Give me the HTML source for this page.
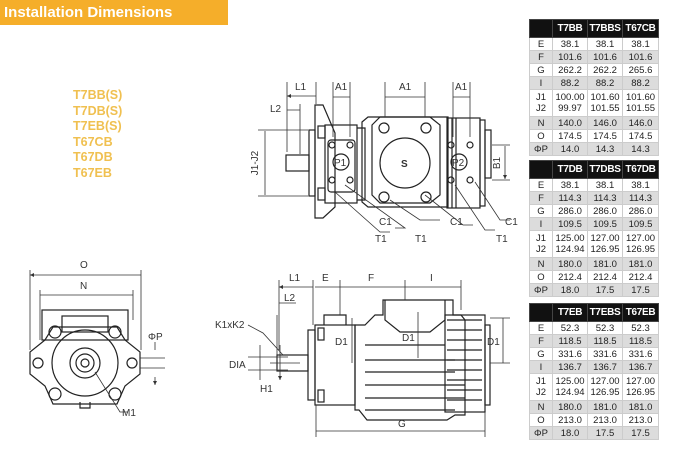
<!DOCTYPE html>
<html><head><style>
body{margin:0;width:700px;height:452px;background:#fff;overflow:hidden;position:relative;font-family:"Liberation Sans",Arial,sans-serif}
.hdr{position:absolute;left:0;top:0;width:228px;height:25px;background:#f5ae2a;color:#fff;font-weight:bold;font-size:15px;line-height:25px;padding-left:4px;box-sizing:border-box}
.models{position:absolute;left:73px;top:88px;color:#f0c050;font-weight:bold;font-size:12.5px;line-height:15.5px}
table{position:absolute;left:529px;border-collapse:collapse;font-size:9.5px;color:#222;width:129px;table-layout:fixed}
td,th{border:1px solid #ccc;text-align:center;padding:0;height:12px;line-height:11px;overflow:hidden;white-space:nowrap}
th{background:#111;color:#fff;font-size:10px;height:17px;border-color:#444;letter-spacing:-0.3px}
tr:nth-child(odd) td{background:#dcdcdc}
td.j{height:26px}
svg{position:absolute;left:0;top:0}
svg text{font-family:"Liberation Sans",Arial,sans-serif;font-size:10px;fill:#333}
</style></head><body>
<div class="hdr">Installation Dimensions</div>
<div class="models">T7BB(S)<br>T7DB(S)<br>T7EB(S)<br>T67CB<br>T67DB<br>T67EB</div>

<table style="top:19px"><colgroup><col style="width:23px"><col style="width:35px"><col style="width:35px"><col style="width:36px"></colgroup><tr><th></th><th>T7BB</th><th>T7BBS</th><th>T67CB</th></tr>
<tr><td>E</td><td>38.1</td><td>38.1</td><td>38.1</td></tr>
<tr><td>F</td><td>101.6</td><td>101.6</td><td>101.6</td></tr>
<tr><td>G</td><td>262.2</td><td>262.2</td><td>265.6</td></tr>
<tr><td>I</td><td>88.2</td><td>88.2</td><td>88.2</td></tr>
<tr><td class="j">J1<br>J2</td><td>100.00<br>99.97</td><td>101.60<br>101.55</td><td>101.60<br>101.55</td></tr>
<tr><td>N</td><td>140.0</td><td>146.0</td><td>146.0</td></tr>
<tr><td>O</td><td>174.5</td><td>174.5</td><td>174.5</td></tr>
<tr><td>ΦP</td><td>14.0</td><td>14.3</td><td>14.3</td></tr></table>

<table style="top:160px"><colgroup><col style="width:23px"><col style="width:35px"><col style="width:35px"><col style="width:36px"></colgroup><tr><th></th><th>T7DB</th><th>T7DBS</th><th>T67DB</th></tr>
<tr><td>E</td><td>38.1</td><td>38.1</td><td>38.1</td></tr>
<tr><td>F</td><td>114.3</td><td>114.3</td><td>114.3</td></tr>
<tr><td>G</td><td>286.0</td><td>286.0</td><td>286.0</td></tr>
<tr><td>I</td><td>109.5</td><td>109.5</td><td>109.5</td></tr>
<tr><td class="j">J1<br>J2</td><td>125.00<br>124.94</td><td>127.00<br>126.95</td><td>127.00<br>126.95</td></tr>
<tr><td>N</td><td>180.0</td><td>181.0</td><td>181.0</td></tr>
<tr><td>O</td><td>212.4</td><td>212.4</td><td>212.4</td></tr>
<tr><td>ΦP</td><td>18.0</td><td>17.5</td><td>17.5</td></tr></table>

<table style="top:303px"><colgroup><col style="width:23px"><col style="width:35px"><col style="width:35px"><col style="width:36px"></colgroup><tr><th></th><th>T7EB</th><th>T7EBS</th><th>T67EB</th></tr>
<tr><td>E</td><td>52.3</td><td>52.3</td><td>52.3</td></tr>
<tr><td>F</td><td>118.5</td><td>118.5</td><td>118.5</td></tr>
<tr><td>G</td><td>331.6</td><td>331.6</td><td>331.6</td></tr>
<tr><td>I</td><td>136.7</td><td>136.7</td><td>136.7</td></tr>
<tr><td class="j">J1<br>J2</td><td>125.00<br>124.94</td><td>127.00<br>126.95</td><td>127.00<br>126.95</td></tr>
<tr><td>N</td><td>180.0</td><td>181.0</td><td>181.0</td></tr>
<tr><td>O</td><td>213.0</td><td>213.0</td><td>213.0</td></tr>
<tr><td>ΦP</td><td>18.0</td><td>17.5</td><td>17.5</td></tr></table>

<svg width="700" height="452" viewBox="0 0 700 452">
<defs><marker id="a" viewBox="0 0 8 8" refX="8" refY="4" markerWidth="5" markerHeight="5" orient="auto-start-reverse"><path d="M0,0L8,4L0,8z" fill="#333"/></marker></defs>
<g stroke="#222" stroke-width="1.2" fill="none">
<rect x="286" y="155" width="23" height="16"/>
<rect x="309" y="130" width="6" height="66"/>
<path d="M315,105h8l12,28v74l-12,11h-8z"/>
<rect x="318" y="126" width="7" height="12"/><rect x="318" y="188" width="7" height="12"/>
<rect x="325" y="125" width="32" height="78"/>
<rect x="328" y="140" width="27" height="52" rx="3"/>
<circle cx="341" cy="162" r="8"/>
<circle cx="332" cy="145" r="3"/><circle cx="350" cy="145" r="3"/><circle cx="332" cy="180" r="3"/><circle cx="350" cy="180" r="3"/>
<path d="M357,128h8v72h-8"/>
<path d="M362,122l6,-5h80v90h-80l-6,-5z"/>
<path d="M372,125l8,-8h50l10,8v70l-10,8h-50l-8,-8z"/>
<circle cx="405" cy="163" r="25"/>
<circle cx="384" cy="128" r="5"/><circle cx="426" cy="128" r="5"/><circle cx="384" cy="197" r="5"/><circle cx="426" cy="197" r="5"/>
<rect x="447" y="118" width="33" height="90"/>
<path d="M452,118v90M456,118v90"/>
<rect x="480" y="120" width="5" height="86"/>
<rect x="485" y="130" width="6" height="48"/>
<circle cx="459" cy="162" r="8"/>
<circle cx="451" cy="145" r="3"/><circle cx="470" cy="145" r="3"/><circle cx="451" cy="180" r="3"/><circle cx="470" cy="180" r="3"/>
<rect x="277" y="355" width="31" height="16"/>
<rect x="308" y="330" width="7" height="70"/>
<rect x="315" y="325" width="40" height="80"/>
<rect x="318" y="328" width="6" height="12"/><rect x="318" y="390" width="6" height="12"/>
<path d="M324,325v-10h22v10"/>
<path d="M355,325h10l10,-10h8v-15h70v15h8l4,5v95h-10l-8,5h-80l-8,-10h-4z"/>
<path d="M385,300v20l15,12h30l15,-12v-20"/>
<path d="M365,345h80M365,360h90M365,372h90M365,385h100M365,398h100M365,410h90"/>
<rect x="445" y="315" width="40" height="97"/>
<path d="M447,320h35M447,330h35M447,340h35M447,350h35M447,360h35M447,370h35M447,380h35M447,390h35M447,400h35"/>
<rect x="485" y="325" width="5" height="80"/>
<rect x="42" y="310" width="86" height="30"/>
<rect x="62" y="316" width="46" height="16"/>
<path d="M45,340l-15,12v22l15,12l8,18h64l8,-18l15,-12v-22l-15,-12l-8,-13h-64z"/>
<circle cx="85" cy="363" r="33"/>
<circle cx="85" cy="363" r="15"/><circle cx="85" cy="363" r="9"/><circle cx="85" cy="363" r="4"/>
<circle cx="55" cy="332" r="6"/><circle cx="115" cy="332" r="6"/><circle cx="55" cy="394" r="6"/><circle cx="115" cy="394" r="6"/>
<circle cx="38" cy="363" r="5"/><circle cx="132" cy="363" r="5"/>
<path d="M80,402v6h10v-6"/>
</g>
<g stroke="#333" stroke-width="0.8" fill="none">
<path d="M287,82v70M316,82v22M300,104v50M333,82v55M350,82v55M385,82v35M425,82v35M453,82v55M470,82v55M258,130h50M258,196h50M492,145h18M492,180h18"/>
<path d="M287,96h29M287,110h13M333,97h17M385,97h40M453,97h17M265,131v64M505,146v33" marker-start="url(#a)" marker-end="url(#a)"/>
<path d="M335,192l45,40h10M345,185l60,43h-10M390,200l30,20h20M425,195l38,30h10M455,185l30,45h10M475,182l25,38h10"/>
<path d="M279,280v70M313,280v45M340,280v35M405,280v20M461,280v30M316,405v32M485,412v25M277,315v45M490,318h20M490,363h20M270,363h30M248,357h40M248,370h40"/>
<path d="M279,287h34M279,303h17M315,287h25M340,287h65M405,287h56M316,431h169M352,318v45M418,312v46M503,318v45M260,345v35M280,345v35" marker-start="url(#a)" marker-end="url(#a)"/>
<path d="M248,325l15,8l20,22"/>
<path d="M30,270v80M141,270v80M40,290v50M133,290v30M140,358h25M140,368h25"/>
<path d="M30,275h111M40,295h93M155,350v-8M155,377v8" marker-start="url(#a)" marker-end="url(#a)"/>
<path d="M95,372l25,40h8"/>
</g>
<g>
<text x="295" y="90">L1</text><text x="270" y="112">L2</text><text x="335" y="90">A1</text><text x="399" y="90">A1</text><text x="455" y="90">A1</text>
<text x="258" y="163" transform="rotate(-90 258 163)" text-anchor="middle">J1-J2</text>
<text x="500" y="163" transform="rotate(-90 500 163)" text-anchor="middle">B1</text>
<text x="401" y="167" font-weight="bold">S</text><text x="334" y="166" font-size="9">P1</text><text x="452" y="166" font-size="9">P2</text>
<text x="379" y="225">C1</text><text x="450" y="225">C1</text><text x="505" y="225">C1</text>
<text x="375" y="242">T1</text><text x="415" y="242">T1</text><text x="496" y="242">T1</text>
<text x="289" y="281">L1</text><text x="322" y="281">E</text><text x="368" y="281">F</text><text x="430" y="281">I</text><text x="284" y="301">L2</text>
<text x="215" y="328">K1xK2</text><text x="229" y="368">DIA</text><text x="260" y="392">H1</text>
<text x="335" y="345">D1</text><text x="402" y="341">D1</text><text x="487" y="345">D1</text>
<text x="398" y="427">G</text>
<text x="80" y="268">O</text><text x="80" y="289">N</text><text x="148" y="340">ΦP</text><text x="122" y="416">M1</text>
</g>
</svg>
</body></html>
